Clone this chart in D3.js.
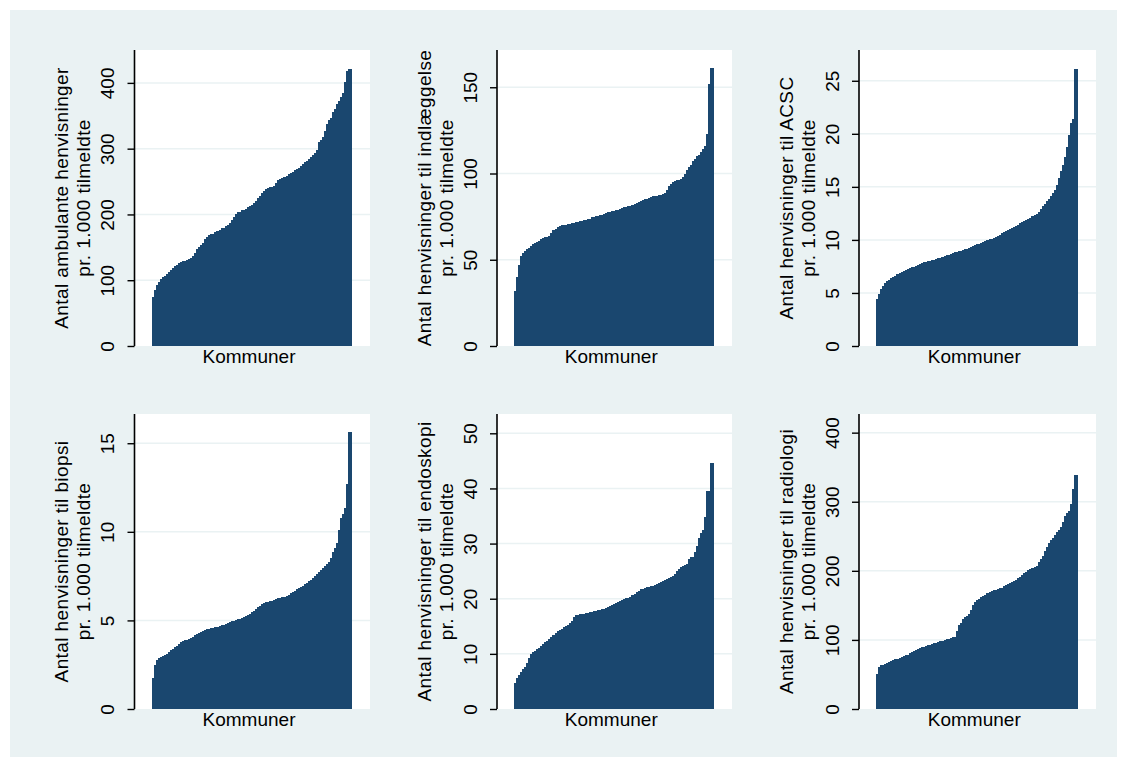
<!DOCTYPE html>
<html>
<head>
<meta charset="utf-8">
<script src="https://cdn.jsdelivr.net/npm/d3@7"></script>
<style>
  html, body { margin: 0; padding: 0; background: #ffffff; }
  svg { display: block; }
  text { font-family: "Liberation Sans", Arial, sans-serif; fill: #000; }
</style>
</head>
<body>
<svg id="chart" width="1125" height="765"></svg>
<script>
// ---------- DATA ----------
const kommuner = d3.range(1, 99).map(i => "Kommune " + i);

const ambulante = [74,85,92,97,102,105,107,109,112,115,118,121,123,126,128,129,129,131,132,134,
 137,142,148,151,153,157,162,166,168,170,171,173,175,177,179,180,182,184,187,192,
 196,200,203,204,206,207,209,211,213,215,217,220,225,228,232,235,238,240,241,242,
 244,248,252,254,256,257,259,261,263,265,267,269,271,274,277,280,282,285,287,290,
 294,298,310,313,318,327,338,344,346,355,361,368,373,379,385,402,418,421];

const indlaeggelse = [32,40,47,52,54,55,56,57,58,59,60,60.5,61,62,62.4,63,63.3,64,65.5,67,
 68,69,69.5,70,70,70.3,70.6,70.8,71.2,71.4,71.8,72,72.3,72.7,73,73.3,73.5,73.8,74.5,75,
 75.2,75.5,75.8,76.1,76.4,77,77.4,77.7,78.1,78.4,78.8,79,79.4,80,80.3,80.6,80.9,81.1,81.7,82.2,
 82.7,83.3,83.8,84.4,85,85.5,86,86.3,86.7,87,87.2,87.4,87.7,88.2,88.8,90.5,92.5,94,95,95.5,
 96,96.5,97,98,100,102,103.5,105,107,108.5,110,111,112.5,114,116,123,152,161];

const acsc = [4.4,4.9,5.4,5.7,5.9,6.1,6.25,6.4,6.5,6.6,6.75,6.85,6.95,7.05,7.15,7.25,7.32,7.4,7.45,7.52,
 7.62,7.72,7.8,7.88,7.93,7.98,8.03,8.08,8.14,8.19,8.25,8.32,8.4,8.47,8.54,8.62,8.69,8.76,8.83,8.88,
 8.95,9.0,9.03,9.1,9.17,9.25,9.33,9.4,9.5,9.58,9.63,9.72,9.78,9.88,9.97,10.05,10.12,10.2,10.3,10.4,
 10.5,10.62,10.74,10.85,10.95,11.05,11.15,11.24,11.33,11.45,11.58,11.68,11.78,11.87,11.98,12.1,12.22,12.33,12.48,12.65,
 12.95,13.2,13.42,13.65,13.88,14.1,14.4,14.75,15.15,15.85,16.45,17.1,17.85,18.75,19.85,21.0,21.4,26.1];

const biopsi = [1.75,2.5,2.78,2.86,2.93,3.0,3.07,3.13,3.22,3.32,3.4,3.48,3.57,3.66,3.78,3.85,3.88,3.92,3.96,4.02,
 4.07,4.15,4.23,4.3,4.36,4.41,4.45,4.49,4.51,4.55,4.58,4.61,4.65,4.7,4.73,4.76,4.8,4.84,4.89,4.94,
 4.98,5.03,5.07,5.1,5.16,5.21,5.25,5.32,5.39,5.46,5.54,5.65,5.74,5.8,5.9,5.97,6.02,6.06,6.09,6.12,
 6.16,6.21,6.24,6.27,6.31,6.34,6.36,6.45,6.53,6.6,6.67,6.76,6.82,6.88,6.96,7.04,7.13,7.21,7.3,7.4,
 7.5,7.6,7.72,7.82,7.94,8.05,8.17,8.32,8.5,8.85,9.1,9.38,10.13,10.8,11.0,11.36,12.68,15.64];

const endoskopi = [4.8,5.6,6.2,6.8,7.3,7.7,8.4,9.3,9.9,10.3,10.5,10.8,11.1,11.4,11.8,12.2,12.4,12.7,13.1,13.4,
 13.7,14.1,14.3,14.5,14.8,15.0,15.3,15.6,16.0,16.6,17.0,17.1,17.2,17.25,17.3,17.4,17.5,17.55,17.65,17.75,
 17.83,17.92,18.0,18.1,18.2,18.3,18.45,18.65,18.8,19.0,19.16,19.35,19.52,19.73,19.9,20.06,20.2,20.38,20.6,20.9,
 21.14,21.4,21.68,21.82,21.95,22.05,22.15,22.26,22.37,22.48,22.6,22.85,23.05,23.25,23.42,23.6,23.78,23.95,24.1,24.5,
 25.0,25.4,25.7,25.95,26.1,26.3,27.2,27.5,27.65,28.5,29.6,31.0,32.0,32.4,34.8,39.5,39.5,44.7];

const radiologi = [50,61,63,64,65,66.5,68,69.3,70.5,72,73,74,75.2,76.4,77.6,78.8,80.5,82,84,85.8,
 87.3,88.5,89.5,90.4,91.3,92.3,93.2,94,95,96,97.2,98,99,99.8,101,102,102.8,103.8,104.6,113,
 121,125,130,133,134.5,137,144,151,155,157.5,159.5,161.5,163.5,165.5,167.3,169,170.6,171.8,172.8,173.8,
 174.6,175.4,177.4,179.3,180.5,182,183.6,185,186.8,189.2,191.3,193.6,196.3,198.8,201.6,203,204.2,205.5,207.5,213,
 216.4,222,229,235,240,244,248,251.5,256,259.8,264,270,279,283,286,297,318,339];

const titleLine1 = [
  "Antal ambulante henvisninger",
  "Antal henvisninger til indlæggelse",
  "Antal henvisninger til ACSC",
  "Antal henvisninger til biopsi",
  "Antal henvisninger til endoskopi",
  "Antal henvisninger til radiologi"
];
const titleLine2 = "pr. 1.000 tilmeldte";
const xAxisTitle = "Kommuner";

const yTicks = [
  [0,100,200,300,400],
  [0,50,100,150],
  [0,5,10,15,20,25],
  [0,5,10,15],
  [0,10,20,30,40,50],
  [0,100,200,300,400]
];
const yMax = [450, 171.6, 27.9, 16.65, 53.5, 427];

const series = [ambulante, indlaeggelse, acsc, biopsi, endoskopi, radiologi];

// ---------- LAYOUT ----------
const colAxisX = [134.5, 497, 859];
const colRight = [370, 732, 1096];
const rowTop = [50, 414];
const rowBottom = [346, 709];
const barInsetL = 17, barInsetR = 19.5;

const COLOR_BG = "#eaf2f3";
const COLOR_BAR = "#1a476f";

const svg = d3.select("#chart");
svg.append("rect").attr("x", 10).attr("y", 10).attr("width", 1107).attr("height", 747)
  .attr("fill", COLOR_BG);

series.forEach((vals, k) => {
  const c = k % 3, r = Math.floor(k / 3);
  const left = colAxisX[c], right = colRight[c];
  const top = rowTop[r], bottom = rowBottom[r];
  const g = svg.append("g");

  // plot region
  g.append("rect").attr("x", left).attr("y", top)
    .attr("width", right - left).attr("height", bottom - top).attr("fill", "#ffffff");

  const x = d3.scaleBand().domain(kommuner).range([left + barInsetL, right - barInsetR]).padding(0);
  const y = d3.scaleLinear().domain([0, yMax[k]]).range([bottom, top]);

  // grid
  g.selectAll("line.grid").data(yTicks[k].filter(t => t !== 0)).enter().append("line")
    .attr("x1", left).attr("x2", right)
    .attr("y1", d => y(d)).attr("y2", d => y(d))
    .attr("stroke", COLOR_BG).attr("stroke-width", 1.5);

  // bars
  g.selectAll("rect.bar").data(vals).enter().append("rect")
    .attr("x", (d, i) => x(kommuner[i]))
    .attr("width", x.bandwidth() + 1)
    .attr("y", d => y(d))
    .attr("height", d => bottom - y(d))
    .attr("fill", COLOR_BAR)
    .attr("shape-rendering", "crispEdges");

  // y axis
  const axis = d3.axisLeft(y).tickValues(yTicks[k]).tickSize(7).tickFormat(d3.format("d"));
  const ag = g.append("g").attr("transform", `translate(${left},0)`).call(axis);
  ag.select(".domain").attr("d", `M0,${top}V${bottom}`).attr("stroke", "#000").attr("stroke-width", 1.6);
  ag.selectAll(".tick line").attr("stroke", "#000").attr("stroke-width", 1.4);
  ag.selectAll(".tick text")
    .attr("x", null).attr("dy", null)
    .attr("transform", "translate(-27,0) rotate(-90)")
    .attr("text-anchor", "middle")
    .attr("dominant-baseline", "central")
    .style("font-family", '"Liberation Sans", Arial, sans-serif')
    .style("font-size", "19px")
    .attr("fill", "#000");

  // y axis titles
  const cy = (top + bottom) / 2;
  g.append("text")
    .attr("transform", `translate(${left - 73},${cy}) rotate(-90)`)
    .attr("text-anchor", "middle").attr("dominant-baseline", "central")
    .style("font-size", "19px").style("letter-spacing", "0.4px")
    .text(titleLine1[k]);
  g.append("text")
    .attr("transform", `translate(${left - 51},${cy}) rotate(-90)`)
    .attr("text-anchor", "middle").attr("dominant-baseline", "central")
    .style("font-size", "19px").style("letter-spacing", "0.4px")
    .text(titleLine2);

  // x axis title
  const xr = x.range();
  g.append("text")
    .attr("x", (xr[0] + xr[1]) / 2 - 2).attr("y", bottom + 17)
    .attr("text-anchor", "middle")
    .style("font-size", "19px")
    .text(xAxisTitle);
});
</script>
</body>
</html>
